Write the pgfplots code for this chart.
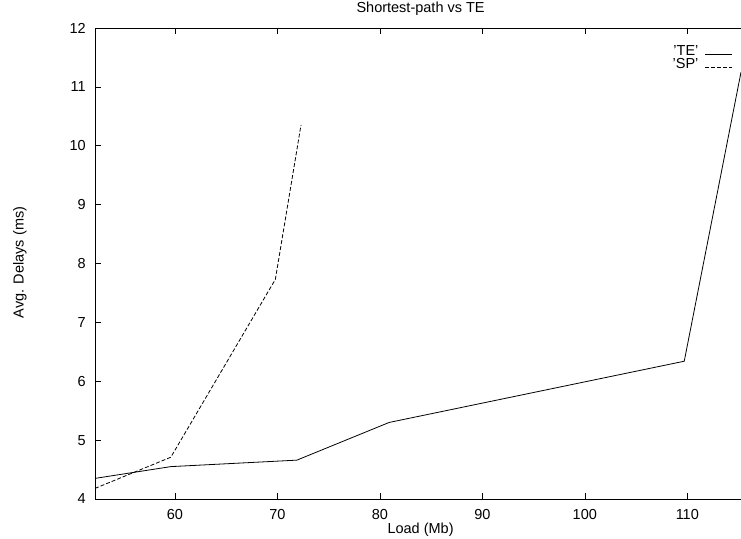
\documentclass[border=0pt]{standalone}
\usepackage{pgfplots}
\pgfplotsset{compat=1.18}
\usepackage{fontspec}
\setmainfont{Liberation Sans}
\begin{document}
\fontsize{14.5bp}{17bp}\selectfont
\begin{tikzpicture}
\begin{axis}[
  scale only axis, width=646bp, height=471bp,
  xmin=52.2, xmax=115.24, ymin=4, ymax=12,
  axis x line=box, axis y line=left,
  axis line style={-, line width=0.8bp, black},
  xtick={60,70,80,90,100,110}, ytick={4,5,6,7,8,9,10,11,12},
  tick align=inside, major tick length=6bp,
  tick style={line width=0.6bp, black},
  /pgf/number format/assume math mode=true,
  xticklabel style={inner sep=0pt, anchor=north, yshift=-10bp},
  yticklabel style={inner sep=0pt, anchor=east, xshift=-9bp},
  title={Shortest-path vs TE},
  title style={at={(axis description cs:0.504,1)}, anchor=base, yshift=10bp, inner sep=0pt},
  xlabel={Load (Mb)},
  every axis x label/.style={at={(axis description cs:0.504,0)}, anchor=base, yshift=-34bp, inner sep=0pt},
  ylabel={Avg. Delays (ms)},
  every axis y label/.style={at={(axis description cs:0,0.502)}, xshift=-75bp, rotate=90, anchor=center, inner sep=0pt},
  legend style={at={(axis description cs:0.9876,0.965)}, anchor=north east, draw=none, fill=none,
    inner sep=0pt, row sep=0pt, column sep=0pt,
    nodes={inner sep=0pt, text height=10.5bp, text depth=3bp}},
  legend cell align=right, legend plot pos=right,
  legend image code/.code={\path[draw=none, fill=none] (0bp,-1bp) rectangle (33bp,1bp); \draw[#1] (7bp,-2.5bp) -- (34bp,-2.5bp);},
]
\addplot[black, line width=0.8bp] coordinates {
  (52.2,4.35) (59.6,4.55) (71.9,4.66) (80.9,5.30) (109.7,6.34) (115.24,11.25)
};
\addlegendentry{'TE'}
\addplot[black, line width=0.8bp, dash pattern=on 4bp off 2bp] coordinates {
  (52.2,4.18) (59.6,4.71) (69.8,7.73) (72.3,10.35)
};
\addlegendentry{'SP'}
\end{axis}
\pgfresetboundingbox
\path[use as bounding box] (current axis.south west) ++(-95bp,-40bp) rectangle ++(741bp,539bp);
\end{tikzpicture}
\end{document}
